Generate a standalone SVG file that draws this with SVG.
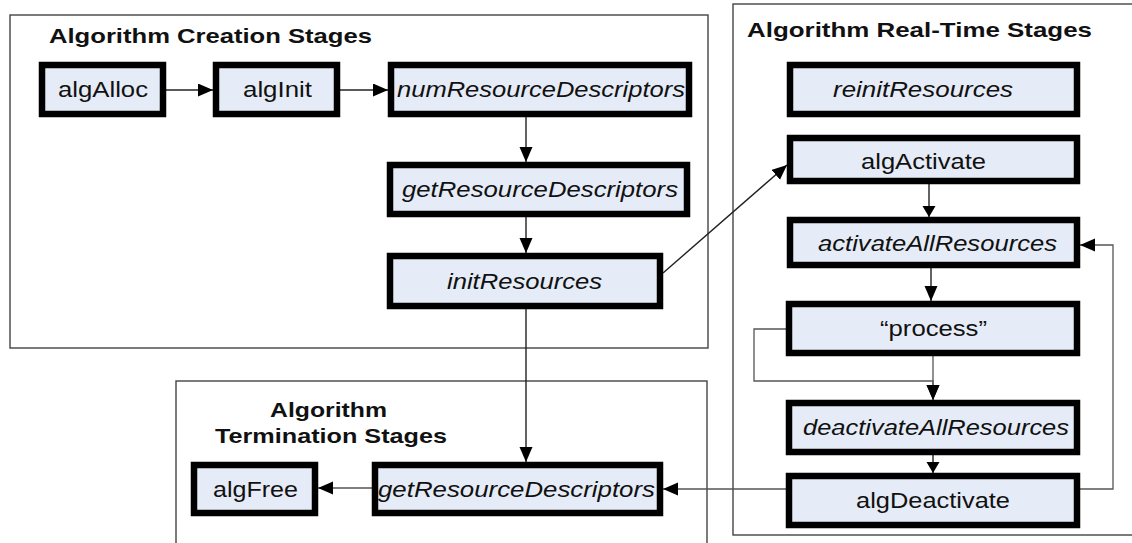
<svg xmlns="http://www.w3.org/2000/svg" width="1132" height="543" viewBox="0 0 1132 543">
<style>
.bg{fill:#ffffff}
.cont{fill:none;stroke:#444;stroke-width:1.4}
.node rect{fill:#E6ECF7;stroke:#000;stroke-width:6.5}
.t{font-family:"Liberation Sans",Arial,sans-serif;font-size:21.5px;fill:#111}
.i{font-style:italic}
.title{font-family:"Liberation Sans",Arial,sans-serif;font-size:21px;font-weight:bold;fill:#111}
.c{fill:none;stroke:#222;stroke-width:1.4}
.g{fill:none;stroke:#555;stroke-width:1.3}
</style>
<defs>
<marker id="ah" markerUnits="userSpaceOnUse" markerWidth="16" markerHeight="14" refX="15" refY="6.5" orient="auto">
<path d="M0,0 L15,6.5 L0,13 z" fill="#000"/>
</marker>
<marker id="ahs" markerUnits="userSpaceOnUse" markerWidth="12" markerHeight="14" refX="11" refY="6.5" orient="auto">
<path d="M0,0 L11,6.5 L0,13 z" fill="#000"/>
</marker>
</defs>
<rect class="bg" x="0" y="0" width="1132" height="543"/>
<g id="containers">
<rect id="creation-stages" class="cont" x="10" y="15" width="698" height="333"/>
<rect id="realtime-stages" class="cont" x="733" y="4" width="420" height="531"/>
<rect id="termination-stages" class="cont" x="176" y="381" width="531" height="180"/>
<text class="title" x="49" y="43" textLength="323" lengthAdjust="spacingAndGlyphs">Algorithm Creation Stages</text>
<text class="title" x="747" y="37" textLength="345" lengthAdjust="spacingAndGlyphs">Algorithm Real-Time Stages</text>
<text class="title" x="270" y="417" textLength="117" lengthAdjust="spacingAndGlyphs">Algorithm</text>
<text class="title" x="215" y="443" textLength="232" lengthAdjust="spacingAndGlyphs">Termination Stages</text>
</g>
<g id="connectors">
<line class="c" x1="166" y1="90" x2="213" y2="90" marker-end="url(#ah)"/>
<line class="c" x1="340" y1="90" x2="388" y2="90" marker-end="url(#ah)"/>
<line class="c" x1="526" y1="117" x2="526" y2="162" marker-end="url(#ah)"/>
<line class="c" x1="526" y1="217" x2="526" y2="253" marker-end="url(#ah)"/>
<line class="c" x1="663" y1="273" x2="787" y2="165" marker-end="url(#ah)"/>
<line class="c" x1="526" y1="309" x2="526" y2="462" marker-end="url(#ah)"/>
<line class="c" x1="929" y1="184" x2="929" y2="217" marker-end="url(#ahs)"/>
<line class="c" x1="931" y1="268" x2="931" y2="301" marker-end="url(#ah)"/>
<line class="g" x1="933" y1="356" x2="933" y2="400" marker-end="url(#ah)"/>
<polyline class="g" points="786,329 754,329 754,381 933,381 933,400" marker-end="url(#ah)"/>
<line class="c" x1="933" y1="455" x2="933" y2="473" marker-end="url(#ahs)"/>
<line class="g" x1="786" y1="489" x2="663" y2="489" marker-end="url(#ah)"/>
<polyline class="g" points="1080,489 1113,489 1113,245 1080,245" marker-end="url(#ah)"/>
<line class="g" x1="372" y1="488" x2="318" y2="488" marker-end="url(#ah)"/>
</g>
<g id="algAlloc" class="node"><rect x="42" y="65" width="121" height="49"/><text class="t" x="58" y="97" textLength="90" lengthAdjust="spacingAndGlyphs">algAlloc</text></g>
<g id="algInit" class="node"><rect x="216" y="65" width="121" height="49"/><text class="t" x="243" y="97" textLength="69" lengthAdjust="spacingAndGlyphs">algInit</text></g>
<g id="numResourceDescriptors" class="node"><rect x="391" y="65" width="298" height="49"/><text class="t i" x="397" y="97" textLength="288" lengthAdjust="spacingAndGlyphs">numResourceDescriptors</text></g>
<g id="getResourceDescriptors1" class="node"><rect x="390" y="165" width="297" height="49"/><text class="t i" x="402" y="197" textLength="276" lengthAdjust="spacingAndGlyphs">getResourceDescriptors</text></g>
<g id="initResources" class="node"><rect x="390" y="256" width="270" height="50"/><text class="t i" x="447" y="289" textLength="155" lengthAdjust="spacingAndGlyphs">initResources</text></g>
<g id="reinitResources" class="node"><rect x="790" y="65" width="287" height="49"/><text class="t i" x="833" y="97" textLength="180" lengthAdjust="spacingAndGlyphs">reinitResources</text></g>
<g id="algActivate" class="node"><rect x="790" y="138" width="287" height="43"/><text class="t" x="861" y="169" textLength="125" lengthAdjust="spacingAndGlyphs">algActivate</text></g>
<g id="activateAllResources" class="node"><rect x="790" y="220" width="287" height="45"/><text class="t i" x="818" y="251" textLength="239" lengthAdjust="spacingAndGlyphs">activateAllResources</text></g>
<g id="process" class="node"><rect x="789" y="304" width="288" height="49"/><text class="t" x="880" y="336" textLength="107" lengthAdjust="spacingAndGlyphs">“process”</text></g>
<g id="deactivateAllResources" class="node"><rect x="789" y="403" width="288" height="49"/><text class="t i" x="803" y="435" textLength="266" lengthAdjust="spacingAndGlyphs">deactivateAllResources</text></g>
<g id="algDeactivate" class="node"><rect x="789" y="476" width="288" height="49"/><text class="t" x="856" y="508" textLength="154" lengthAdjust="spacingAndGlyphs">algDeactivate</text></g>
<g id="algFree" class="node"><rect x="194" y="465" width="121" height="48"/><text class="t" x="213" y="497" textLength="85" lengthAdjust="spacingAndGlyphs">algFree</text></g>
<g id="getResourceDescriptors2" class="node"><rect x="375" y="465" width="285" height="48"/><text class="t i" x="378" y="497" textLength="277" lengthAdjust="spacingAndGlyphs">getResourceDescriptors</text></g>
</svg>
